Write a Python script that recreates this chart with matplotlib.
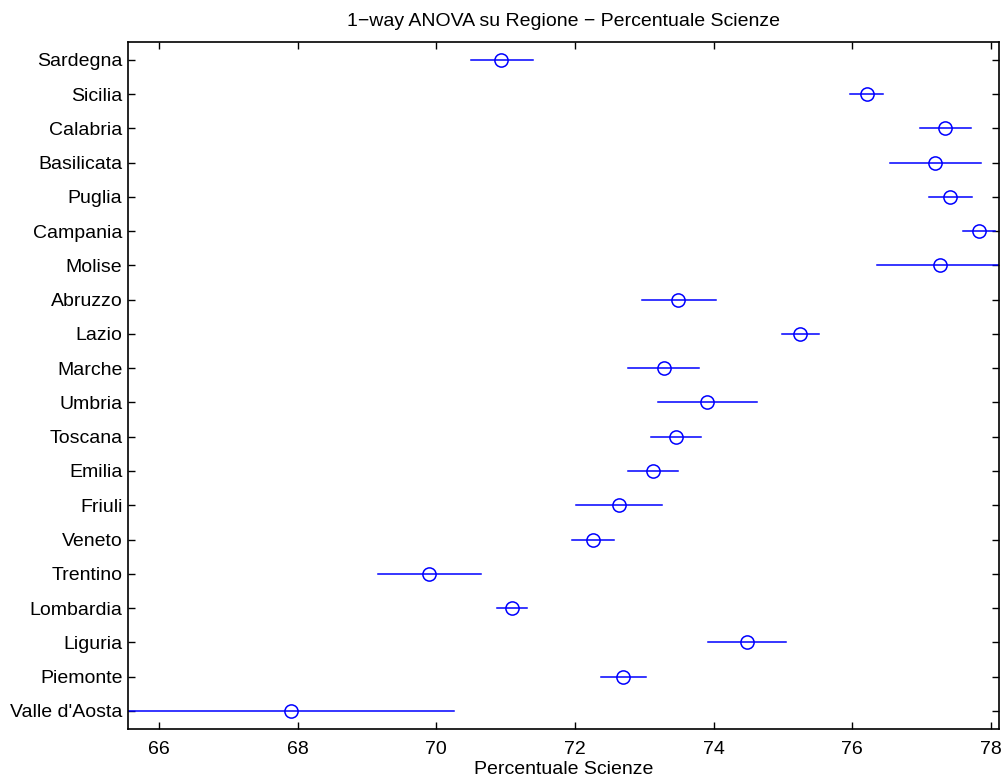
import matplotlib
matplotlib.use("Agg")
import matplotlib.pyplot as plt

matplotlib.rcParams['font.family'] = ['Liberation Sans', 'DejaVu Sans']

# regions from top to bottom as they appear in the chart
regioni = ["Sardegna", "Sicilia", "Calabria", "Basilicata", "Puglia", "Campania",
           "Molise", "Abruzzo", "Lazio", "Marche", "Umbria", "Toscana", "Emilia",
           "Friuli", "Veneto", "Trentino", "Lombardia", "Liguria", "Piemonte",
           "Valle d'Aosta"]
medie = [70.94, 76.21, 77.34, 77.20, 77.41, 77.83, 77.26, 73.49, 75.25, 73.28,
         73.91, 73.46, 73.12, 72.63, 72.26, 69.90, 71.09, 74.48, 72.70, 67.91]
inf = [70.50, 75.96, 76.98, 76.54, 77.10, 77.60, 76.36, 72.96, 74.98, 72.77,
       73.20, 73.10, 72.77, 72.02, 71.96, 69.16, 70.88, 73.92, 72.38, 65.56]
sup = [71.39, 76.45, 77.71, 77.86, 77.73, 78.06, 78.17, 74.03, 75.52, 73.79,
       74.62, 73.82, 73.48, 73.25, 72.57, 70.65, 71.31, 75.04, 73.03, 70.26]

n = len(regioni)
ypos = [n - 1 - i for i in range(n)]

fig = plt.figure(figsize=(10.03, 7.78), dpi=100)
ax = fig.add_axes([0.1276, 0.063, 0.868, 0.9464 - 0.063])

for y, lo, hi in zip(ypos, inf, sup):
    ax.plot([lo, hi], [y, y], color="blue", lw=1.1)
ax.plot(medie, ypos, "o", mfc="none", mec="blue", ms=9.5, mew=1.1)

ax.set_xlim(65.553, 78.11)
ax.set_ylim(-0.53, n - 0.47)
ax.set_xticks([66, 68, 70, 72, 74, 76, 78])
ax.set_yticks(ypos)
ax.set_yticklabels(regioni)
ax.tick_params(direction="in", length=5, width=1, top=True, right=True,
               labelsize=14, colors="black", pad=4)
ax.tick_params(axis="x", pad=9)
for s in ax.spines.values():
    s.set_linewidth(1.2)

ax.set_title("1\u2212way ANOVA su Regione \u2212 Percentuale Scienze", fontsize=14, pad=11)
ax.set_xlabel("Percentuale Scienze", fontsize=14, labelpad=2)

fig.savefig("out.png", dpi=100)
